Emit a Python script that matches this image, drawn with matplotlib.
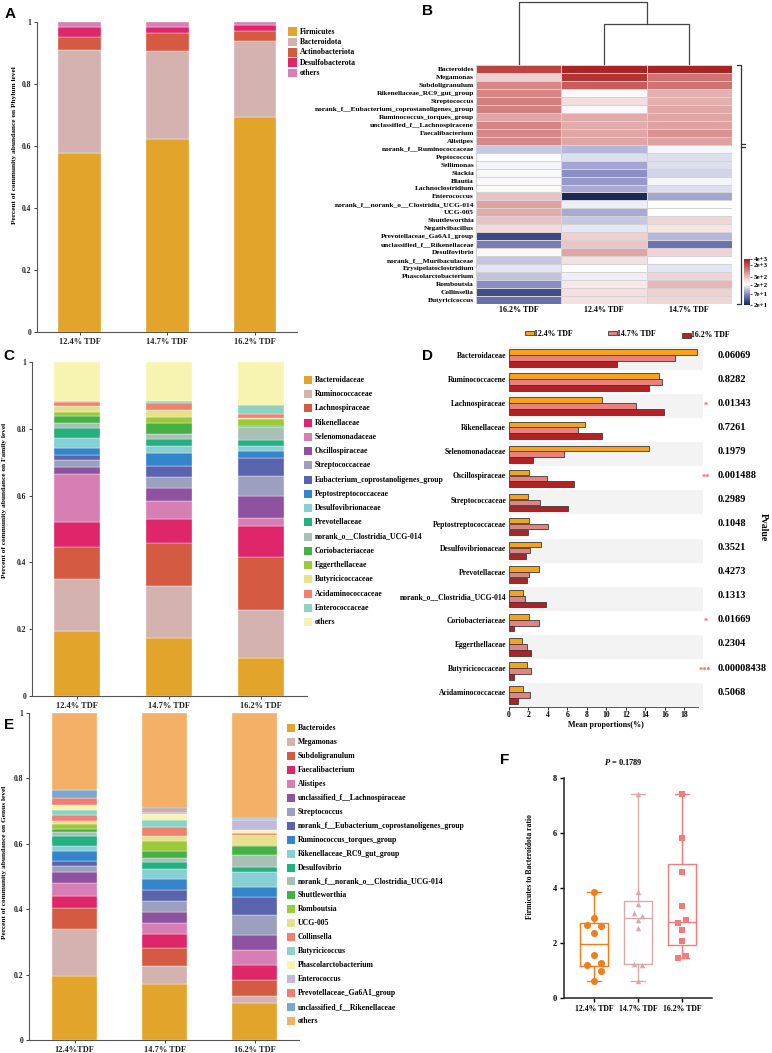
import matplotlib
matplotlib.use('Agg')
import matplotlib.pyplot as plt
import matplotlib as mpl
import numpy as np
from matplotlib.colors import LinearSegmentedColormap, LogNorm
from matplotlib.lines import Line2D
from matplotlib.patches import Rectangle

# ---------------- DATA ----------------
groups = ['12.4% TDF', '14.7% TDF', '16.2% TDF']
groups_e = ['12.4%TDF', '14.7% TDF', '16.2% TDF']

# Panel A (phylum)
phyla = ['Firmicutes', 'Bacteroidota', 'Actinobacteriota', 'Desulfobacterota', 'others']
a_124 = [0.576, 0.334, 0.042, 0.032, 0.016]
a_147 = [0.621, 0.285, 0.059, 0.020, 0.015]
a_162 = [0.694, 0.245, 0.033, 0.018, 0.010]
phyla_colors = ['#E2A42B', '#D4B2B0', '#D55A42', '#E0266A', '#D77EB5']

# Panel B (heatmap)
hm_genera = ['Bacteroides', 'Megamonas', 'Subdoligranulum', 'Rikenellaceae_RC9_gut_group',
             'Streptococcus', 'norank_f__Eubacterium_coprostanoligenes_group',
             'Ruminococcus_torques_group', 'unclassified_f__Lachnospiracene', 'Faecalibacterium',
             'Alistipes', 'norank_f__Ruminococcaceae', 'Peptococcus', 'Sellimonas', 'Slackia',
             'Blautia', 'Lachnoclostridium', 'Enterococcus', 'norank_f__norank_o__Clostridia_UCG-014',
             'UCG-005', 'Shuttleworthia', 'Negativibacillus', 'Prevotellaceae_Ga6A1_group',
             'unclassified_f__Rikenellaceae', 'Desulfovibrio', 'norank_f__Muribaculaceae',
             'Erysipelatoclostridium', 'Phascolarctobacterium', 'Romboutsia', 'Collinsella',
             'Butyricicoccus']
hm_columns = ['16.2% TDF', '12.4% TDF', '14.7% TDF']
hm_162 = [2300, 430, 970, 1000, 1100, 1100, 690, 1000, 970, 970, 130, 210, 195, 205, 240, 235,
          500, 730, 650, 500, 370, 32, 60, 240, 128, 170, 122, 73, 34, 52]
hm_124 = [3600, 2900, 1700, 210, 350, 240, 650, 650, 690, 690, 110, 160, 93, 75, 83, 98,
          20, 185, 98, 128, 175, 430, 480, 690, 340, 216, 185, 300, 340, 340]
hm_147 = [3600, 1300, 1300, 620, 620, 680, 690, 720, 870, 720, 200, 160, 160, 143, 195, 160,
          93, 216, 216, 390, 320, 110, 53, 410, 210, 170, 410, 560, 430, 390]
dendro_heights = [0.645, 1.0]
cbar_ticks = [4000, 2000, 500, 200, 70, 20]
cbar_labels = ['4e+3', '2e+3', '5e+2', '2e+2', '7e+1', '2e+1']

# Panel C (family)
families = ['Bacteroidaceae', 'Ruminococcaceae', 'Lachnospiraceae', 'Rikenellaceae',
            'Selenomonadaceae', 'Oscillospiraceae', 'Streptococcaceae',
            'Eubacterium_coprostanoligenes_group', 'Peptostreptococcaceae', 'Desulfovibrionaceae',
            'Prevotellaceae', 'norank_o__Clostridia_UCG-014', 'Coriobacteriaceae', 'Eggerthellaceae',
            'Butyricicoccaceae', 'Acidaminococcaceae', 'Enterococcaceae', 'others']
c_124 = [0.196, 0.154, 0.095, 0.077, 0.144, 0.021, 0.019, 0.017, 0.019, 0.031, 0.030, 0.014,
         0.020, 0.012, 0.018, 0.014, 0.002, 0.117]
c_147 = [0.173, 0.155, 0.130, 0.071, 0.056, 0.039, 0.031, 0.035, 0.039, 0.020, 0.021, 0.015,
         0.031, 0.018, 0.021, 0.022, 0.006, 0.117]
c_162 = [0.113, 0.144, 0.158, 0.095, 0.024, 0.066, 0.060, 0.054, 0.019, 0.016, 0.018, 0.037,
         0.003, 0.023, 0.003, 0.010, 0.028, 0.129]
family_colors = ['#E2A42B', '#D4B2B0', '#D55A42', '#E0266A', '#D77EB5', '#8E52A0', '#9BA0BE',
                 '#5A63AE', '#3585CD', '#85CFD5', '#25B080', '#A8C0B5', '#45B045', '#9AC93A',
                 '#E8E08A', '#F08070', '#8CD3C3', '#F7F3B0']

# Panel D (mean proportions)
d_cats = ['Bacteroidaceae', 'Ruminococcacene', 'Lachnospiraceae', 'Rikenellaceae',
          'Selenomonadaceae', 'Oscillospiraceae', 'Streptococcaceae', 'Peptostreptococcaceae',
          'Desulfovibrionaceae', 'Prevotellaceae', 'norank_o__Clostridia_UCG-014',
          'Coriobacteriaceae', 'Eggerthellaceae', 'Butyricicoccaceae', 'Acidaminococcaceae']
d_124 = [19.3, 15.4, 9.5, 7.8, 14.4, 2.1, 2.0, 2.1, 3.25, 3.1, 1.4, 2.1, 1.3, 1.85, 1.4]
d_147 = [17.0, 15.7, 13.0, 7.1, 5.6, 3.9, 3.2, 4.0, 2.15, 2.05, 1.6, 3.1, 1.85, 2.3, 2.2]
d_162 = [11.1, 14.4, 15.9, 9.5, 2.5, 6.7, 6.1, 2.0, 1.75, 1.8, 3.75, 0.5, 2.25, 0.5, 0.9]
d_pvalues = ['0.06069', '0.8282', '0.01343', '0.7261', '0.1979', '0.001488', '0.2989', '0.1048',
             '0.3521', '0.4273', '0.1313', '0.01669', '0.2304', '0.00008438', '0.5068']
d_stars = ['', '', '*', '', '', '**', '', '', '', '', '', '*', '', '***', '']
d_colors = ['#F5A31A', '#E88080', '#B22225']

# Panel E (genus)
genera = ['Bacteroides', 'Megamonas', 'Subdoligranulum', 'Faecalibacterium', 'Alistipes',
          'unclassified_f__Lachnospiraceae', 'Streptococcus',
          'norank_f__Eubacterium_coprostanoligenes_group', 'Ruminococcus_torques_group',
          'Rikenellaceae_RC9_gut_group', 'Desulfovibrio', 'norank_f__norank_o__Clostridia_UCG-014',
          'Shuttleworthia', 'Romboutsia', 'UCG-005', 'Collinsella', 'Butyricicoccus',
          'Phascolarctobacterium', 'Enterococcus', 'Prevotellaceae_Ga6A1_group',
          'unclassified_f__Rikenellaceae', 'others']
e_124 = [0.195, 0.143, 0.067, 0.035, 0.040, 0.033, 0.020, 0.015, 0.030, 0.014, 0.031, 0.013,
         0.009, 0.017, 0.007, 0.018, 0.017, 0.014, 0.002, 0.020, 0.024, 0.236]
e_147 = [0.170, 0.056, 0.056, 0.041, 0.034, 0.034, 0.033, 0.035, 0.032, 0.031, 0.021, 0.015,
         0.021, 0.031, 0.014, 0.026, 0.022, 0.019, 0.006, 0.007, 0.006, 0.290]
e_162 = [0.112, 0.024, 0.046, 0.046, 0.046, 0.047, 0.060, 0.055, 0.032, 0.045, 0.015, 0.037,
         0.028, 0.003, 0.032, 0.004, 0.002, 0.008, 0.030, 0.004, 0.004, 0.320]
genus_colors = ['#E2A42B', '#D4B2B0', '#D55A42', '#E0266A', '#D77EB5', '#8E52A0', '#9BA0BE',
                '#5A63AE', '#3585CD', '#85CFD5', '#25B080', '#A8C0B5', '#45B045', '#9AC93A',
                '#E8E08A', '#F08070', '#8CD3C3', '#F7F3B0', '#C0B8DD', '#F07F72', '#7BA8D0',
                '#F5B068']

# Panel F (F/B ratio)
f_124 = [3.87, 2.92, 2.67, 2.63, 2.36, 1.56, 1.20, 1.28, 1.00, 0.61]
f_147 = [7.43, 3.87, 3.41, 3.09, 2.97, 2.85, 2.53, 1.25, 1.21, 0.61]
f_162 = [7.42, 5.82, 4.57, 3.36, 2.73, 2.82, 2.48, 2.08, 1.47, 1.54]
f_pvalue = '0.1789'

# ---------------- STYLE / LAYOUT ----------------
W, H = 772, 1053
plt.rcParams['font.family'] = ['Liberation Serif', 'DejaVu Serif']
plt.rcParams['font.weight'] = 'bold'
plt.rcParams['axes.labelweight'] = 'bold'
plt.rcParams['mathtext.fontset'] = 'custom'
plt.rcParams['mathtext.it'] = 'Liberation Serif:italic:bold'
plt.rcParams['mathtext.rm'] = 'Liberation Serif:bold'

fig = plt.figure(figsize=(W / 100, H / 100), dpi=100)


def add_ax(l, t, r, b):
    return fig.add_axes([l / W, 1 - b / H, (r - l) / W, (b - t) / H])


def ftext(x, y, s, **kw):
    return fig.text(x / W, 1 - y / H, s, **kw)


def fline(xs, ys, **kw):
    fig.add_artist(Line2D([x / W for x in xs], [1 - y / H for y in ys],
                          transform=fig.transFigure, **kw))


def frect(x, y, w, h, **kw):
    fig.add_artist(Rectangle((x / W, 1 - (y + h) / H), w / W, h / H,
                             transform=fig.transFigure, **kw))


def legend_px(x_sq, y0, dy, sq, names, colors, fs):
    for i, (n, c) in enumerate(zip(names, colors)):
        y = y0 + i * dy
        frect(x_sq, y - sq / 2, sq, sq, color=c, lw=0)
        ftext(x_sq + sq + 3, y, n, fontsize=fs, va='center', ha='left')


def stacked(ax, labels, cols, colors, width, xlim):
    x = np.arange(len(labels))
    bottom = np.zeros(len(labels))
    mat = np.array(cols).T
    for vals, c in zip(mat, colors):
        ax.bar(x, vals, width, bottom=bottom, color=c, edgecolor='white', linewidth=0.25)
        bottom += vals
    ax.set_xlim(*xlim)
    ax.set_ylim(0, 1)
    ax.set_xticks(x)
    ax.set_xticklabels(labels, fontsize=6)
    ax.set_yticks([0, 0.2, 0.4, 0.6, 0.8, 1.0])
    ax.set_yticklabels(['0', '0.2', '0.4', '0.6', '0.8', '1'], fontsize=5.5)
    for s in ['top', 'right']:
        ax.spines[s].set_visible(False)
    for s in ['left', 'bottom']:
        ax.spines[s].set_color('#555555')
        ax.spines[s].set_linewidth(0.8)
    ax.tick_params(length=2.5, width=0.6, pad=1.5, colors='#222222')


# Panel labels
for lab, x, y in [('A', 5, 7), ('B', 422, 4), ('C', 3, 349), ('D', 422, 349),
                  ('E', 4, 718), ('F', 500, 753)]:
    ftext(x, y, lab, fontsize=11, fontweight='bold', family='Liberation Sans', va='top', ha='left')

# ---------- A ----------
axA = add_ax(37, 22, 297, 332)
stacked(axA, groups, [a_124, a_147, a_162], phyla_colors, 0.49, (-0.49, 2.48))
ftext(15, 145, 'Percent of community abundance on Phylum level', rotation=90,
      fontsize=5.3, ha='center', va='center')
legend_px(288, 31.5, 10.4, 8.5, phyla, phyla_colors, 5.6)

# ---------- B ----------
cmap = LinearSegmentedColormap.from_list('hm', [
    (0.0, '#1C2858'), (0.12, '#4A5496'), (0.25, '#8E90C6'), (0.35, '#C5C7E2'),
    (0.45, '#FFFFFF'), (0.58, '#EFCFD0'), (0.72, '#D88E8E'), (0.85, '#C55858'),
    (1.0, '#A51C1C')])
norm = LogNorm(vmin=20, vmax=4000)
hm = np.column_stack([hm_162, hm_124, hm_147])
axB = add_ax(476, 65, 732, 304)
axB.pcolormesh(np.arange(4), np.arange(len(hm_genera) + 1), hm, cmap=cmap, norm=norm,
               edgecolors='#D4D4D4', linewidth=0.7)
axB.set_ylim(len(hm_genera), 0)
axB.set_xlim(0, 3)
axB.set_yticks(np.arange(len(hm_genera)) + 0.5)
axB.set_yticklabels(hm_genera, fontsize=5.3)
axB.set_xticks([0.5, 1.5, 2.5])
axB.set_xticklabels(hm_columns, fontsize=5.8)
axB.tick_params(length=0, pad=1.5)
for s in axB.spines.values():
    s.set_visible(False)

# column dendrogram
axDen = add_ax(476, 2, 732, 64)
axDen.set_xlim(0, 3)
axDen.set_ylim(0, 1)
axDen.axis('off')
h1, h2 = dendro_heights
kw = dict(color='#444444', lw=0.9, clip_on=False)
axDen.plot([1.5, 1.5, 2.5, 2.5], [0, h1, h1, 0], **kw)
axDen.plot([0.5, 0.5, 2.0, 2.0], [0, h2, h2, h1], **kw)

# row bracket (collapsed row dendrogram)
bk = dict(color='#333333', lw=0.9)
fline([737, 741, 741, 737], [65, 65, 304, 304], **bk)
fline([741, 745], [144, 144], **bk)
fline([741, 745], [146.5, 146.5], **bk)

# colorbar
cax = add_ax(744, 259, 750, 305)
cb = fig.colorbar(mpl.cm.ScalarMappable(norm=norm, cmap=cmap), cax=cax)
cb.set_ticks(cbar_ticks)
cb.set_ticklabels(cbar_labels)
cb.ax.minorticks_off()
cb.ax.tick_params(labelsize=5, length=1.5, width=0.5, pad=1)
cb.outline.set_visible(False)

# ---------- C ----------
axC = add_ax(32, 362, 307, 696)
stacked(axC, groups, [c_124, c_147, c_162], family_colors, 0.5, (-0.49, 2.5))
ftext(5, 500, 'Percent of community abundance on Family level', rotation=90,
      fontsize=5.3, ha='center', va='center')
legend_px(304, 380, 14.24, 8, families, family_colors, 5.6)

# ---------- D ----------
axD = add_ax(509, 346, 703, 707)
n = len(d_cats)
xmaxD = 19.9
for i in range(n):
    if i % 2 == 0:
        axD.axhspan(i - 0.5, i + 0.5, color='#F3F3F3', zorder=0, lw=0)
ypos = np.arange(n)
for off, vals, c in zip([-0.245, 0.0, 0.245], [d_124, d_147, d_162], d_colors):
    axD.barh(ypos + off, vals, height=0.235, color=c, edgecolor='#3A3A3A', linewidth=0.6, zorder=2)
axD.set_xlim(0, xmaxD)
axD.set_ylim(n - 0.5, -0.5)
axD.set_yticks(ypos - 0.12)
axD.set_yticklabels(d_cats, fontsize=5.5)
axD.set_xticks(np.arange(0, 19, 2))
axD.tick_params(axis='y', length=0, pad=2)
axD.tick_params(axis='x', length=2, width=0.6, labelsize=5.5, pad=1)
for s in ['top', 'right', 'left']:
    axD.spines[s].set_visible(False)
axD.spines['bottom'].set_bounds(0, 19.4)
axD.spines['bottom'].set_color('#555555')
axD.spines['bottom'].set_linewidth(0.7)
axD.set_xlabel('Mean proportions(%)', fontsize=5.8, labelpad=1)
for i in range(n):
    axD.text(21.4, i - 0.12, d_pvalues[i], ha='left', va='center', fontsize=7.5, clip_on=False)
    if d_stars[i]:
        axD.text(20.15, i - 0.02, d_stars[i], ha='center', va='center', fontsize=6,
                 color='#E86060', clip_on=False)
ftext(763, 527, 'Pvalue', rotation=270, fontsize=7, ha='center', va='center')
# D legend
for (x, y), lab, c in zip([(525, 331), (608, 331), (682, 333)], groups, d_colors):
    frect(x, y, 8.5, 4.5, facecolor=c, edgecolor='#3A3A3A', lw=0.6)
    ftext(x + 9, y + 2.5, lab, fontsize=5.6, ha='left', va='center')

# ---------- E ----------
axE = add_ax(29, 713, 299, 1040)
stacked(axE, groups_e, [e_124, e_147, e_162], genus_colors, 0.5, (-0.505, 2.49))
ftext(5, 862, 'Percent of community abundance on Genus level', rotation=90,
      fontsize=5.3, ha='center', va='center')
legend_px(287, 728, 13.95, 8, genera, genus_colors, 5.6)

# ---------- F ----------
axF = add_ax(564, 778, 712, 998)
f_sets = [f_124, f_147, f_162]
f_colors = ['#F07D1E', '#D9A9AA', '#F07C7C']
f_markers = ['o', '^', 's']
f_sizes = [26, 16, 15]
f_jitter = [[0, 0, -0.16, 0.15, 0, 0, -0.16, 0.15, 0.15, 0],
            [0, 0, 0, -0.1, 0.1, 0, 0, -0.1, 0.1, 0],
            [0, 0, 0, 0, -0.1, 0.1, 0, 0, -0.1, 0.1]]
for k, (d, c, m, s, jit) in enumerate(zip(f_sets, f_colors, f_markers, f_sizes, f_jitter)):
    q1, med, q3 = np.percentile(d, [25, 50, 75], method='weibull')
    st = [dict(med=med, q1=q1, q3=q3, whislo=min(d), whishi=max(d), fliers=[])]
    lp = dict(color=c, linewidth=1.0)
    axF.bxp(st, positions=[k + 1], widths=0.64, capwidths=0.32, showfliers=False,
            boxprops=lp, whiskerprops=lp, capprops=lp, medianprops=lp)
    axF.scatter(np.full(len(d), k + 1.0) + np.array(jit), d, s=s, marker=m, color=c,
                zorder=3, linewidths=0)
axF.set_xlim(0.32, 3.68)
axF.set_ylim(0, 8)
axF.set_yticks([0, 2, 4, 6, 8])
axF.set_xticks([1, 2, 3])
axF.set_xticklabels(groups, fontsize=5.6)
axF.tick_params(axis='y', labelsize=6, length=3, width=1, pad=2)
axF.tick_params(axis='x', length=3, width=1, pad=2)
for s in ['top', 'right']:
    axF.spines[s].set_visible(False)
for s in ['left', 'bottom']:
    axF.spines[s].set_linewidth(1.1)
    axF.spines[s].set_color('#222222')
ftext(530, 867, 'Firmicutes to Bacteroidota ratio', rotation=90, fontsize=5.5,
      ha='center', va='center')
ftext(623, 762, '$P$ = ' + f_pvalue, fontsize=6, ha='center', va='center')

fig.savefig('out.png', dpi=100)
